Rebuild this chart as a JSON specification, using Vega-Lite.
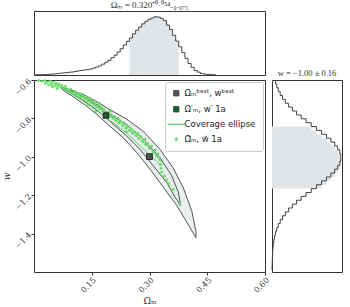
{
 "$schema": "https://vega.github.io/schema/vega-lite/v6.json",
 "padding": {"left": 1, "top": 0, "right": 0, "bottom": 0},
 "config": {
  "font": "DejaVu Serif",
  "view": {"stroke": "#333", "strokeWidth": 1},
  "axis": {"grid": false, "domain": false, "labelFont": "DejaVu Serif", "labelFontSize": 8, "labelColor": "#333", "tickColor": "#333", "tickSize": 3, "labelPadding": 1, "titlePadding": 2, "titleFont": "DejaVu Serif", "titleFontSize": 9, "titleFontWeight": "normal", "titleColor": "#333"},
  "title": {"font": "Liberation Serif", "fontSize": 9, "fontWeight": "normal", "color": "#333", "offset": 1}
 },
 "datasets": {
  "tophist": [
   {"om":0.000,"h":0.003},{"om":0.008,"h":0.004},{"om":0.016,"h":0.005},{"om":0.024,"h":0.007},{"om":0.032,"h":0.010},{"om":0.040,"h":0.013},{"om":0.048,"h":0.016},{"om":0.056,"h":0.021},{"om":0.064,"h":0.027},{"om":0.072,"h":0.032},{"om":0.080,"h":0.037},{"om":0.088,"h":0.042},{"om":0.096,"h":0.047},{"om":0.104,"h":0.055},{"om":0.112,"h":0.064},{"om":0.120,"h":0.071},{"om":0.128,"h":0.078},{"om":0.136,"h":0.085},{"om":0.144,"h":0.093},{"om":0.152,"h":0.108},{"om":0.160,"h":0.125},{"om":0.168,"h":0.142},{"om":0.176,"h":0.170},{"om":0.184,"h":0.200},{"om":0.192,"h":0.228},{"om":0.200,"h":0.270},{"om":0.208,"h":0.310},{"om":0.216,"h":0.360},{"om":0.224,"h":0.410},{"om":0.232,"h":0.470},{"om":0.240,"h":0.525},{"om":0.248,"h":0.580},{"om":0.256,"h":0.645},{"om":0.264,"h":0.700},{"om":0.272,"h":0.750},{"om":0.280,"h":0.800},{"om":0.288,"h":0.840},{"om":0.296,"h":0.870},{"om":0.304,"h":0.890},{"om":0.312,"h":0.910},{"om":0.320,"h":0.905},{"om":0.328,"h":0.885},{"om":0.336,"h":0.850},{"om":0.344,"h":0.780},{"om":0.352,"h":0.710},{"om":0.360,"h":0.620},{"om":0.368,"h":0.530},{"om":0.376,"h":0.440},{"om":0.384,"h":0.350},{"om":0.392,"h":0.260},{"om":0.400,"h":0.180},{"om":0.408,"h":0.120},{"om":0.416,"h":0.070},{"om":0.424,"h":0.045},{"om":0.432,"h":0.025},{"om":0.440,"h":0.015},{"om":0.448,"h":0.010},{"om":0.456,"h":0.006},{"om":0.464,"h":0.003},{"om":0.472,"h":0.000}
  ],
  "righthist": [
   {"w":-1.58,"d":0.0017},{"w":-1.56,"d":0.0027},{"w":-1.54,"d":0.0041},{"w":-1.52,"d":0.0062},{"w":-1.50,"d":0.0092},{"w":-1.48,"d":0.0134},{"w":-1.46,"d":0.0192},{"w":-1.44,"d":0.027},{"w":-1.42,"d":0.0375},{"w":-1.40,"d":0.0513},{"w":-1.38,"d":0.069},{"w":-1.36,"d":0.0914},{"w":-1.34,"d":0.119},{"w":-1.32,"d":0.153},{"w":-1.30,"d":0.193},{"w":-1.28,"d":0.241},{"w":-1.26,"d":0.295},{"w":-1.24,"d":0.356},{"w":-1.22,"d":0.423},{"w":-1.20,"d":0.494},{"w":-1.18,"d":0.569},{"w":-1.16,"d":0.644},{"w":-1.14,"d":0.719},{"w":-1.12,"d":0.790},{"w":-1.10,"d":0.854},{"w":-1.08,"d":0.909},{"w":-1.06,"d":0.952},{"w":-1.04,"d":0.983},{"w":-1.02,"d":0.998},{"w":-1.00,"d":0.998},{"w":-0.98,"d":0.983},{"w":-0.96,"d":0.952},{"w":-0.94,"d":0.909},{"w":-0.92,"d":0.854},{"w":-0.90,"d":0.790},{"w":-0.88,"d":0.719},{"w":-0.86,"d":0.644},{"w":-0.84,"d":0.569},{"w":-0.82,"d":0.494},{"w":-0.80,"d":0.423},{"w":-0.78,"d":0.356},{"w":-0.76,"d":0.295},{"w":-0.74,"d":0.241},{"w":-0.72,"d":0.193},{"w":-0.70,"d":0.153},{"w":-0.68,"d":0.119},{"w":-0.66,"d":0.0914},{"w":-0.64,"d":0.069},{"w":-0.62,"d":0.0513},{"w":-0.60,"d":0.0513}
  ],
  "contours": [
   {"level":"o","i":0,"om":0.0675,"w":-0.636},{"level":"o","i":1,"om":0.0987,"w":-0.654},{"level":"o","i":2,"om":0.1299,"w":-0.677},{"level":"o","i":3,"om":0.1636,"w":-0.713},{"level":"o","i":4,"om":0.1974,"w":-0.755},{"level":"o","i":5,"om":0.2408,"w":-0.804},{"level":"o","i":6,"om":0.2839,"w":-0.868},{"level":"o","i":7,"om":0.3273,"w":-0.961},{"level":"o","i":8,"om":0.3618,"w":-1.059},{"level":"o","i":9,"om":0.3878,"w":-1.162},{"level":"o","i":10,"om":0.4096,"w":-1.280},{"level":"o","i":11,"om":0.4208,"w":-1.389},{"level":"o","i":12,"om":0.4208,"w":-1.422},{"level":"o","i":13,"om":0.3966,"w":-1.339},{"level":"o","i":14,"om":0.3706,"w":-1.253},{"level":"o","i":15,"om":0.3358,"w":-1.158},{"level":"o","i":16,"om":0.3013,"w":-1.064},{"level":"o","i":17,"om":0.2668,"w":-0.978},{"level":"o","i":18,"om":0.2319,"w":-0.901},{"level":"o","i":19,"om":0.1974,"w":-0.841},{"level":"o","i":20,"om":0.1636,"w":-0.780},{"level":"o","i":21,"om":0.1299,"w":-0.726},{"level":"o","i":22,"om":0.0987,"w":-0.683},{"level":"o","i":23,"om":0.0779,"w":-0.657},{"level":"o","i":24,"om":0.0675,"w":-0.636},
   {"level":"i","i":0,"om":0.0753,"w":-0.641},{"level":"i","i":1,"om":0.0987,"w":-0.659},{"level":"i","i":2,"om":0.1299,"w":-0.688},{"level":"i","i":3,"om":0.1636,"w":-0.729},{"level":"i","i":4,"om":0.1974,"w":-0.780},{"level":"i","i":5,"om":0.2408,"w":-0.832},{"level":"i","i":6,"om":0.2839,"w":-0.909},{"level":"i","i":7,"om":0.3273,"w":-1.004},{"level":"i","i":8,"om":0.3577,"w":-1.099},{"level":"i","i":9,"om":0.3748,"w":-1.184},{"level":"i","i":10,"om":0.3810,"w":-1.253},{"level":"i","i":11,"om":0.3662,"w":-1.210},{"level":"i","i":12,"om":0.3447,"w":-1.133},{"level":"i","i":13,"om":0.3099,"w":-1.047},{"level":"i","i":14,"om":0.2753,"w":-0.961},{"level":"i","i":15,"om":0.2408,"w":-0.892},{"level":"i","i":16,"om":0.1974,"w":-0.815},{"level":"i","i":17,"om":0.1636,"w":-0.757},{"level":"i","i":18,"om":0.1299,"w":-0.708},{"level":"i","i":19,"om":0.0987,"w":-0.672},{"level":"i","i":20,"om":0.0753,"w":-0.641}
  ],
  "ellipse": [
   {"i":0,"om":0.076,"w":-0.640},{"i":1,"om":0.13,"w":-0.690},{"i":2,"om":0.19,"w":-0.776},{"i":3,"om":0.25,"w":-0.862},{"i":4,"om":0.30,"w":-0.955},{"i":5,"om":0.335,"w":-1.035},{"i":6,"om":0.33,"w":-1.045},{"i":7,"om":0.29,"w":-0.970},{"i":8,"om":0.24,"w":-0.875},{"i":9,"om":0.18,"w":-0.785},{"i":10,"om":0.125,"w":-0.705},{"i":11,"om":0.076,"w":-0.646},{"i":12,"om":0.076,"w":-0.640}
  ],
  "vec": [
   {"om":0.012,"w":-0.603},{"om":0.02,"w":-0.607},{"om":0.028,"w":-0.603},{"om":0.035,"w":-0.611},{"om":0.03,"w":-0.618},{"om":0.042,"w":-0.606},{"om":0.045,"w":-0.622},{"om":0.05,"w":-0.613},{"om":0.055,"w":-0.628},{"om":0.058,"w":-0.618},{"om":0.062,"w":-0.633},{"om":0.065,"w":-0.622},{"om":0.07,"w":-0.638},{"om":0.048,"w":-0.635},{"om":0.038,"w":-0.625},{"om":0.06,"w":-0.645},{"om":0.072,"w":-0.628},{"om":0.078,"w":-0.64},{"om":0.082,"w":-0.633},{"om":0.085,"w":-0.65},
   {"om":0.09,"w":-0.655},{"om":0.095,"w":-0.648},{"om":0.1,"w":-0.668},{"om":0.105,"w":-0.66},{"om":0.11,"w":-0.675},{"om":0.115,"w":-0.668},{"om":0.118,"w":-0.685},{"om":0.12,"w":-0.672},{"om":0.125,"w":-0.69},{"om":0.13,"w":-0.683},{"om":0.133,"w":-0.7},{"om":0.138,"w":-0.692},{"om":0.14,"w":-0.708},{"om":0.145,"w":-0.7},{"om":0.148,"w":-0.718},{"om":0.152,"w":-0.71},{"om":0.155,"w":-0.728},{"om":0.16,"w":-0.72},{"om":0.162,"w":-0.74},{"om":0.168,"w":-0.73},{"om":0.17,"w":-0.75},{"om":0.175,"w":-0.742},{"om":0.178,"w":-0.762},{"om":0.182,"w":-0.755},{"om":0.19,"w":-0.772},{"om":0.195,"w":-0.765},{"om":0.198,"w":-0.79},{"om":0.2,"w":-0.78},{"om":0.205,"w":-0.8},{"om":0.21,"w":-0.79},{"om":0.213,"w":-0.812},{"om":0.218,"w":-0.8},{"om":0.22,"w":-0.825},{"om":0.225,"w":-0.815},{"om":0.23,"w":-0.838},{"om":0.235,"w":-0.828},{"om":0.238,"w":-0.852},{"om":0.243,"w":-0.842},{"om":0.248,"w":-0.865},{"om":0.252,"w":-0.855},{"om":0.256,"w":-0.878},{"om":0.26,"w":-0.868},{"om":0.265,"w":-0.89},{"om":0.27,"w":-0.88},{"om":0.272,"w":-0.905},{"om":0.278,"w":-0.895},{"om":0.282,"w":-0.92},{"om":0.288,"w":-0.91},{"om":0.29,"w":-0.935},{"om":0.295,"w":-0.93},{"om":0.3,"w":-0.955},{"om":0.305,"w":-0.945},{"om":0.31,"w":-0.975},{"om":0.315,"w":-0.965},{"om":0.318,"w":-0.995},{"om":0.322,"w":-0.985},{"om":0.327,"w":-1.015},{"om":0.328,"w":-1.04},{"om":0.33,"w":-1.06},{"om":0.332,"w":-1.08},{"om":0.338,"w":-1.1},{"om":0.345,"w":-1.12},{"om":0.35,"w":-1.14},{"om":0.362,"w":-1.17},{"om":0.379,"w":-1.245},{"om":0.14,"w":-0.73},{"om":0.17,"w":-0.72},{"om":0.16,"w":-0.765},{"om":0.2,"w":-0.76},{"om":0.24,"w":-0.87}
  ],
  "best": [{"om":0.300,"w":-0.999}],
  "prime": [{"om":0.187,"w":-0.785}]
 },
 "spacing": -10,
 "resolve": {"scale": {"color": "independent"}, "legend": {"color": "independent"}},
 "vconcat": [
  {
   "width": 231, "height": 64,
   "title": "Ωₘ = 0.320⁺⁰·⁰⁵⁴₋₀.₀₇₅",
   "data": {"name": "tophist"},
   "layer": [
    {"transform": [{"filter": "datum.om >= 0.247 && datum.om <= 0.377"}],
     "mark": {"type": "area", "interpolate": "step-after", "color": "#e1e5e7"},
     "encoding": {"x": {"field": "om", "type": "quantitative", "scale": {"domain": [0, 0.6]}, "axis": null}, "y": {"field": "h", "type": "quantitative", "scale": {"domain": [0, 1]}, "axis": null}}},
    {"mark": {"type": "line", "interpolate": "step-after", "color": "#444", "strokeWidth": 1},
     "encoding": {"x": {"field": "om", "type": "quantitative", "scale": {"domain": [0, 0.6]}, "axis": null}, "y": {"field": "h", "type": "quantitative", "scale": {"domain": [0, 1]}, "axis": null}}}
   ]
  },
  {
   "spacing": -6,
   "resolve": {"scale": {"color": "independent"}, "legend": {"color": "independent"}},
   "hconcat": [
    {
     "width": 231, "height": 192,
     "layer": [
      {"data": {"name": "contours"},
       "mark": {"type": "line", "fill": "#e6ebeb", "fillOpacity": 0.85, "stroke": "#3c4444", "strokeWidth": 0.9},
       "encoding": {
        "x": {"field": "om", "type": "quantitative", "scale": {"domain": [0, 0.6]}, "axis": {"values": [0.15, 0.3, 0.45, 0.6], "format": ".2f", "labelAngle": -45, "title": "Ωₘ"}},
        "y": {"field": "w", "type": "quantitative", "scale": {"domain": [-1.59, -0.6]}, "axis": {"values": [-0.6, -0.8, -1.0, -1.2, -1.4], "format": ".1f", "labelAngle": -45, "title": "w", "titleFontStyle": "italic"}},
        "detail": {"field": "level"},
        "order": {"field": "i", "type": "quantitative"}}},
      {"data": {"name": "vec"},
       "mark": {"type": "point", "filled": true, "size": 8, "opacity": 1},
       "encoding": {
        "x": {"field": "om", "type": "quantitative"},
        "y": {"field": "w", "type": "quantitative"},
        "color": {"datum": "Ω⃗ₘ, w⃗ 1a", "type": "nominal",
         "scale": {"domain": ["Ωₘᵇᵉˢᵗ, wᵇᵉˢᵗ", "Ω′ₘ, w′ 1a", "Coverage ellipse", "Ω⃗ₘ, w⃗ 1a"], "range": ["#4a5252", "#1e5a2e", "#5cd65c", "#66dd66"]},
         "legend": {"title": null, "orient": "top-right", "offset": 2, "fillColor": "white", "strokeColor": "#cccccc", "cornerRadius": 2, "padding": 7, "labelFont": "DejaVu Sans", "labelFontSize": 8.5, "labelColor": "#222", "rowPadding": 6, "symbolOpacity": 1,
          "encode": {"symbols": {"update": {
           "shape": {"signal": "datum.index == 2 ? 'stroke' : (datum.index == 3 ? 'circle' : 'square')"},
           "size": {"signal": "datum.index == 2 ? 300 : (datum.index == 3 ? 6 : 30)"},
           "stroke": {"signal": "datum.index < 2 ? '#111' : '#5cd65c'"},
           "strokeWidth": {"signal": "datum.index == 2 ? 1.3 : 0.8"},
           "opacity": {"value": 1}}}}}}}},
      {"data": {"name": "ellipse"},
       "mark": {"type": "line", "strokeWidth": 1},
       "encoding": {
        "x": {"field": "om", "type": "quantitative"},
        "y": {"field": "w", "type": "quantitative"},
        "color": {"datum": "Coverage ellipse", "type": "nominal"},
        "order": {"field": "i", "type": "quantitative"}}},
      {"data": {"name": "prime"},
       "mark": {"type": "point", "filled": true, "shape": "square", "size": 30, "stroke": "#111", "strokeWidth": 0.8, "opacity": 1},
       "encoding": {
        "x": {"field": "om", "type": "quantitative"},
        "y": {"field": "w", "type": "quantitative"},
        "color": {"datum": "Ω′ₘ, w′ 1a", "type": "nominal"}}},
      {"data": {"name": "best"},
       "mark": {"type": "point", "filled": true, "shape": "square", "size": 34, "stroke": "#111", "strokeWidth": 0.8, "opacity": 1},
       "encoding": {
        "x": {"field": "om", "type": "quantitative"},
        "y": {"field": "w", "type": "quantitative"},
        "color": {"datum": "Ωₘᵇᵉˢᵗ, wᵇᵉˢᵗ", "type": "nominal"}}}
     ]
    },
    {
     "width": 70, "height": 192,
     "title": {"text": "w = −1.00 ± 0.16", "fontSize": 8.5},
     "data": {"name": "righthist"},
     "layer": [
      {"transform": [{"filter": "datum.w >= -1.161 && datum.w <= -0.839"}],
       "mark": {"type": "area", "orient": "horizontal", "interpolate": "step-before", "color": "#e1e5e7"},
       "encoding": {"y": {"field": "w", "type": "quantitative", "scale": {"domain": [-1.59, -0.6]}, "axis": null}, "x": {"field": "d", "type": "quantitative", "scale": {"domain": [0, 1.015]}, "axis": null}}},
      {"mark": {"type": "line", "interpolate": "step-before", "color": "#444", "strokeWidth": 1},
       "encoding": {"y": {"field": "w", "type": "quantitative", "scale": {"domain": [-1.59, -0.6]}, "axis": null}, "x": {"field": "d", "type": "quantitative", "scale": {"domain": [0, 1.015]}, "axis": null}, "order": {"field": "w", "type": "quantitative"}}}
     ]
    }
   ]
  }
 ]
}
